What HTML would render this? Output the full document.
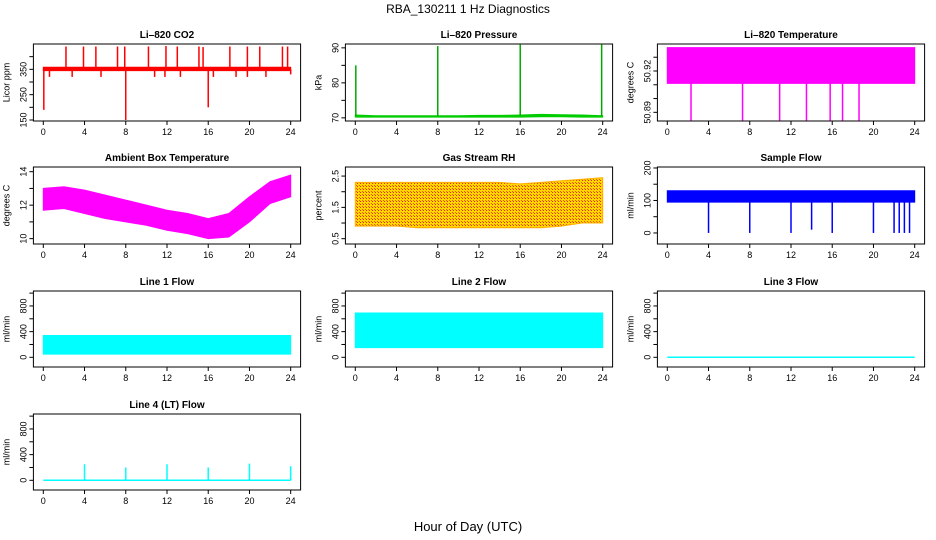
<!DOCTYPE html>
<html><head><meta charset="utf-8"><style>
body{margin:0;background:#fff}
svg{display:block;font-family:"Liberation Sans",Arial,sans-serif}
</style></head><body>
<svg id="c" width="936" height="540" viewBox="0 0 936 540">
<defs><pattern id="rhp" width="3" height="3" patternUnits="userSpaceOnUse"><rect width="3" height="3" fill="#ffd800"/><rect x="0" y="0" width="1" height="1" fill="#ff2000"/><rect x="2" y="2" width="1" height="1" fill="#ff5000"/></pattern></defs>
<text x="468" y="13" text-anchor="middle" font-size="12">RBA_130211  1 Hz Diagnostics</text>
<text x="468" y="531" text-anchor="middle" font-size="13">Hour of Day (UTC)</text>
</svg>
<script>
const hours=[0,2,4,6,8,10,12,14,16,18,20,22,24];
const xTicks=[0,4,8,12,16,20,24];
// CO2
const co2Lo=[345,345,345,345,345,345,345,345,345,345,345,345,345];
const co2Hi=[358,358,358,358,358,358,358,358,358,358,358,358,358];
const co2SpikeT=[2.2,3.9,5.1,7.2,7.9,10.2,11.9,13.0,15.1,15.5,18.1,19.8,21.0,23.2,23.7];
const co2SpikeV=[440,440,440,440,440,440,442,440,440,438,440,440,440,440,440];
const co2DipT=[0.05,0.6,2.8,5.6,8.0,10.8,11.8,13.3,16.0,16.5,18.7,19.8,21.6,24];
const co2DipV=[190,320,320,320,150,320,320,320,200,320,320,320,320,330];
// Pressure
const prLo=[70.2,70.2,70.2,70.2,70.2,70.2,70.2,70.2,70.2,70.3,70.3,70.2,70.2];
const prHi=[70.8,70.6,70.6,70.6,70.6,70.6,70.7,70.7,70.8,71.0,70.9,70.8,70.6];
const prSpikeT=[0.05,8,16,23.9];
const prSpikeV=[85,90.5,91,91];
// Li-820 temperature
const tLo=[50.911,50.911,50.911,50.911,50.911,50.911,50.911,50.911,50.911,50.911,50.911,50.911,50.911];
const tHi=[50.937,50.937,50.937,50.937,50.937,50.937,50.937,50.937,50.937,50.937,50.937,50.937,50.937];
const tSpikeT=[2.3,7.3,10.9,13.5,15.8,17.0,18.6];
const tSpikeV=[50.884,50.884,50.884,50.884,50.884,50.884,50.884];
// Ambient
const ambLo=[11.7,11.8,11.5,11.2,11.0,10.8,10.5,10.3,10.0,10.1,11.0,12.1,12.5];
const ambHi=[13.0,13.1,12.9,12.6,12.3,12.0,11.7,11.5,11.2,11.5,12.5,13.4,13.8];
// RH
const rhLo=[0.9,0.9,0.9,0.85,0.85,0.85,0.85,0.85,0.85,0.85,0.9,1.0,1.0];
const rhHi=[2.3,2.3,2.3,2.3,2.3,2.3,2.3,2.3,2.25,2.3,2.35,2.4,2.45];
// Sample flow
const sfLo=[95,95,95,95,95,95,95,95,95,95,95,95,95];
const sfHi=[130,130,130,130,130,130,130,130,130,130,130,130,130];
const sfSpikeT=[4,8,12,14,16,20,22,22.5,23,23.5];
const sfSpikeV=[0,0,0,10,0,0,0,0,0,0];
// Line flows
const l1Lo=[50,50,50,50,50,50,50,50,50,50,50,50,50];
const l1Hi=[340,340,340,340,340,340,340,340,340,340,340,340,340];
const l2Lo=[150,150,150,150,150,150,150,150,150,150,150,150,150];
const l2Hi=[690,690,690,690,690,690,690,690,690,690,690,690,690];
const l3Val=[0,0,0,0,0,0,0,0,0,0,0,0,0];
const l4Val=[0,0,0,0,0,0,0,0,0,0,0,0,0];
const l4SpikeT=[4,8,12,16,20,24];
const l4SpikeV=[250,200,250,200,260,220];

const svg=document.getElementById('c');
const NS='http://www.w3.org/2000/svg';
function mk(t,a){const e=document.createElementNS(NS,t);for(const k in a)e.setAttribute(k,a[k]);svg.appendChild(e);return e;}
const rowTop=[44,167,291,414],rowBot=[121,244,367,490];
function panel(c,r,title,ylab,d0,d1,ticks,labs,name){
  const L=33.4+312*c,R=300.6+312*c,T=rowTop[r],B=rowBot[r];
  const P={x:h=>43.3+312*c+h*10.308,y:v=>B-(v-d0)/(d1-d0)*(B-T),L,R,T,B};
  const box=mk('rect',{x:L,y:T,width:R-L,height:B-T,fill:'none',stroke:'#000','stroke-width':1});
  
  
  const tt=mk('text',{x:(L+R)/2,y:T-6,'text-anchor':'middle','font-size':10,'font-weight':'bold'});tt.textContent=title;
  
  
  const yl=mk('text',{x:0,y:0,transform:`translate(${L-24},${(T+B)/2}) rotate(-90)`,'text-anchor':'middle','font-size':9});yl.textContent=ylab;
  
  
  ticks.forEach(v=>{const y=P.y(v);const tk=mk('line',{x1:L-4,x2:L,y1:y,y2:y,stroke:'#000'});
    
    });
  labs.forEach(v=>{const y=P.y(v);const tl=mk('text',{x:0,y:0,transform:`translate(${L-7},${y}) rotate(-90)`,'text-anchor':'middle','font-size':9});tl.textContent=String(v);
    
    });
  xTicks.forEach(h=>{const x=P.x(h);const tk=mk('line',{x1:x,x2:x,y1:B,y2:B+4,stroke:'#000'});
    
    
    const tl=mk('text',{x:x,y:B+14,'text-anchor':'middle','font-size':9});tl.textContent=String(h);
    
    });
  return P;
}
function band(P,lo,hi,fill,name){
  let pts=hours.map((h,i)=>P.x(h)+','+P.y(hi[i]));
  pts=pts.concat(hours.slice().reverse().map((h,j)=>{const i=hours.length-1-j;return P.x(h)+','+P.y(lo[i]);}));
  const p=mk('polygon',{points:pts.join(' '),fill:fill,stroke:fill==='url(#rhp)'?'#ffb000':fill,'stroke-width':1});
  
  
}
function spikes(P,ts,vs,base,col,name){
  ts.forEach((t,i)=>{const x=P.x(t);const l=mk('line',{x1:x,x2:x,y1:P.y(base),y2:P.y(vs[i]),stroke:col,'stroke-width':1.5});
    
    });
}
function line(P,vals,col,name){
  const l=mk('polyline',{points:hours.map((h,i)=>P.x(h)+','+P.y(vals[i])).join(' '),fill:'none',stroke:col,'stroke-width':1.5});
  
  
}
let P;
P=panel(0,0,'Li\u2013820 CO2','Licor ppm',146,450,[150,200,250,300,350,400],[150,250,350],'co2');
band(P,co2Lo,co2Hi,'#ff0000','co2');spikes(P,co2SpikeT,co2SpikeV,350,'#ff0000','co2');spikes(P,co2DipT,co2DipV,350,'#ff0000','co2-dip');
P=panel(1,0,'Li\u2013820 Pressure','kPa',69.1,91.1,[70,75,80,85,90],[70,80,90],'pressure');
band(P,prLo,prHi,'#00cc00','pressure');spikes(P,prSpikeT,prSpikeV,70.5,'#00aa00','pressure');
P=panel(2,0,'Li\u2013820 Temperature','degrees C',50.8837,50.9396,[50.89,50.9,50.91,50.92,50.93],[50.89,50.92],'li820-temp');
band(P,tLo,tHi,'#ff00ff','li820-temp');spikes(P,tSpikeT,tSpikeV,50.912,'#ff00ff','li820-temp');
P=panel(0,1,'Ambient Box Temperature','degrees C',9.68,14.28,[10,11,12,13,14],[10,12,14],'ambient-temp');
band(P,ambLo,ambHi,'#ff00ff','ambient-temp');
P=panel(1,1,'Gas Stream RH','percent',0.33,2.79,[0.5,1,1.5,2,2.5],[0.5,1.5,2.5],'gas-rh');
band(P,rhLo,rhHi,'url(#rhp)','gas-rh');
P=panel(2,1,'Sample Flow','ml/min',-34,203,[0,50,100,150,200],[0,100,200],'sample-flow');
band(P,sfLo,sfHi,'#0000ff','sample-flow');spikes(P,sfSpikeT,sfSpikeV,100,'#0000ff','sample-flow');
P=panel(0,2,'Line 1 Flow','ml/min',-151,1033,[0,200,400,600,800,1000],[0,400,800],'line1-flow');
band(P,l1Lo,l1Hi,'#00ffff','line1-flow');
P=panel(1,2,'Line 2 Flow','ml/min',-151,1033,[0,200,400,600,800,1000],[0,400,800],'line2-flow');
band(P,l2Lo,l2Hi,'#00ffff','line2-flow');
P=panel(2,2,'Line 3 Flow','ml/min',-151,1033,[0,200,400,600,800,1000],[0,400,800],'line3-flow');
line(P,l3Val,'#00ffff','line3-flow');
P=panel(0,3,'Line 4 (LT) Flow','ml/min',-151,1033,[0,200,400,600,800,1000],[0,400,800],'line4-flow');
line(P,l4Val,'#00ffff','line4-flow');spikes(P,l4SpikeT,l4SpikeV,0,'#00ffff','line4-flow');
</script>
</body></html>
